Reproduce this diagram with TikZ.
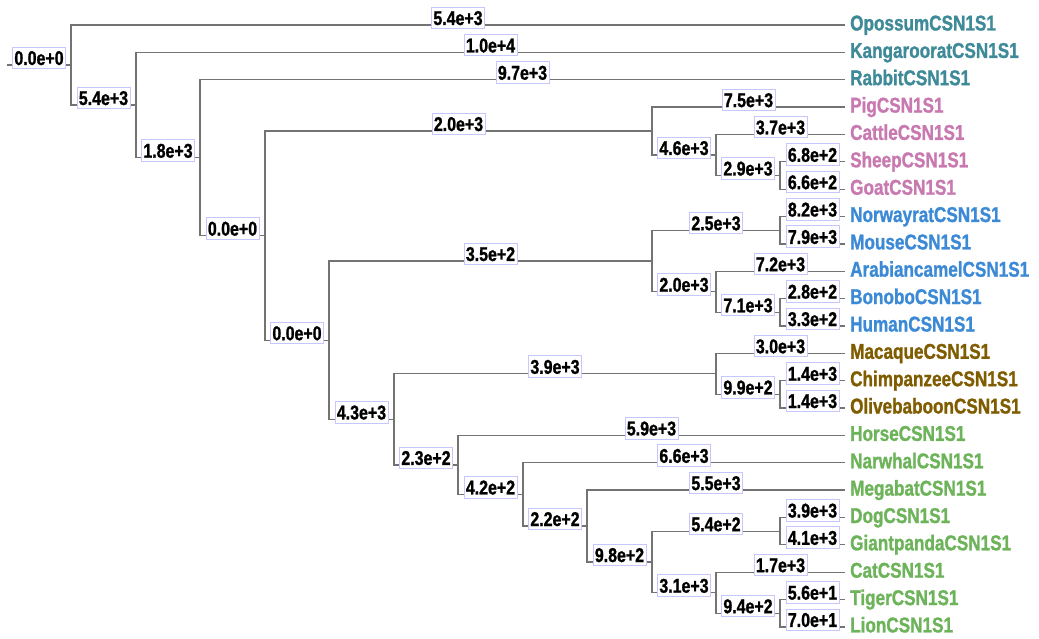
\documentclass[tikz,border=0pt]{standalone}
\usepackage{fontspec}
\setmainfont[FakeStretch=0.8, BoldFeatures={FakeBold=1.2}]{Liberation Sans}

\definecolor{tealgroup}{RGB}{63,138,152}
\definecolor{pinkgroup}{RGB}{200,121,176}
\definecolor{bluegroup}{RGB}{60,138,214}
\definecolor{browngroup}{RGB}{127,92,0}
\definecolor{greengroup}{RGB}{108,179,90}

\begin{document}
\begin{tikzpicture}[x=1bp, y=-1bp,
  edge/.style={draw=black!55, line width=1.3bp},
  lennode/.style={fill=white, draw=blue!22, line width=0.8bp, anchor=base, inner xsep=2bp, inner ysep=3.5bp, text height=14.5bp, text depth=0bp, font=\bfseries\fontsize{20}{20}\selectfont },
  leafnode/.style={anchor=west, inner xsep=5bp, inner ysep=0bp, text height=15bp, text depth=4bp, font=\bfseries\fontsize{21.5}{21.5}\selectfont },
  tealleaf/.style={leafnode, text=tealgroup },
  pinkleaf/.style={leafnode, text=pinkgroup },
  blueleaf/.style={leafnode, text=bluegroup },
  brownleaf/.style={leafnode, text=browngroup },
  greenleaf/.style={leafnode, text=greengroup },
]
\useasboundingbox (0,0) rectangle (1039,639);

%LEAVES
\node[tealleaf] (opossum) at (845,25) {OpossumCSN1S1};
\node[tealleaf] (kangaroorat) at (845,52.4) {KangarooratCSN1S1};
\node[tealleaf] (rabbit) at (845,79.7) {RabbitCSN1S1};
\node[pinkleaf] (pig) at (845,107.1) {PigCSN1S1};
\node[pinkleaf] (cattle) at (845,134.4) {CattleCSN1S1};
\node[pinkleaf] (sheep) at (845,161.8) {SheepCSN1S1};
\node[pinkleaf] (goat) at (845,189.2) {GoatCSN1S1};
\node[blueleaf] (norwayrat) at (845,216.5) {NorwayratCSN1S1};
\node[blueleaf] (mouse) at (845,243.9) {MouseCSN1S1};
\node[blueleaf] (camel) at (845,271.2) {ArabiancamelCSN1S1};
\node[blueleaf] (bonobo) at (845,298.6) {BonoboCSN1S1};
\node[blueleaf] (human) at (845,326) {HumanCSN1S1};
\node[brownleaf] (macaque) at (845,353.3) {MacaqueCSN1S1};
\node[brownleaf] (chimp) at (845,380.7) {ChimpanzeeCSN1S1};
\node[brownleaf] (baboon) at (845,408) {OlivebaboonCSN1S1};
\node[greenleaf] (horse) at (845,435.4) {HorseCSN1S1};
\node[greenleaf] (narwhal) at (845,462.8) {NarwhalCSN1S1};
\node[greenleaf] (megabat) at (845,490.1) {MegabatCSN1S1};
\node[greenleaf] (dog) at (845,517.5) {DogCSN1S1};
\node[greenleaf] (panda) at (845,544.8) {GiantpandaCSN1S1};
\node[greenleaf] (cat) at (845,572.2) {CatCSN1S1};
\node[greenleaf] (tiger) at (845,599.6) {TigerCSN1S1};
\node[greenleaf] (lion) at (845,626.9) {LionCSN1S1};

%INNER NODES
\coordinate (stub) at (7,65);
\coordinate (n0) at (71,65);
\coordinate (n1) at (136,105);
\coordinate (n2) at (200,157.7);
\coordinate (n3) at (265,235.6);
\coordinate (n4) at (652,131);
\coordinate (n5) at (329,340.2);
\coordinate (n6) at (716,155);
\coordinate (n7) at (780,175.5);
\coordinate (n8) at (652,261);
\coordinate (n9) at (394,419.4);
\coordinate (n10) at (780,230.2);
\coordinate (n11) at (716,291.7);
\coordinate (n12) at (780,312.3);
\coordinate (n13) at (716,373.8);
\coordinate (n14) at (458,464.9);
\coordinate (n15) at (780,394.4);
\coordinate (n16) at (523,494.4);
\coordinate (n17) at (587,526);
\coordinate (n18) at (652,562);
\coordinate (n19) at (780,531.2);
\coordinate (n20) at (716,592.7);
\coordinate (n21) at (780,613.2);

%BRANCHES
\draw[edge] (stub) -- node[lennode, pos=0.5] {0.0e+0} (n0);
\draw[edge] (n0) |- node[lennode, pos=0.75] {5.4e+3} (opossum.west);
\draw[edge] (n0) |- node[lennode, pos=0.75] {5.4e+3} (n1);
\draw[edge] (n1) |- node[lennode, pos=0.75] {1.0e+4} (kangaroorat.west);
\draw[edge] (n1) |- node[lennode, pos=0.75] {1.8e+3} (n2);
\draw[edge] (n2) |- node[lennode, pos=0.75] {9.7e+3} (rabbit.west);
\draw[edge] (n2) |- node[lennode, pos=0.75] {0.0e+0} (n3);

\draw[edge] (n3) |- node[lennode, pos=0.75] {2.0e+3} (n4);
\draw[edge] (n4) |- node[lennode, pos=0.75] {7.5e+3} (pig.west);
\draw[edge] (n4) |- node[lennode, pos=0.75] {4.6e+3} (n6);
\draw[edge] (n6) |- node[lennode, pos=0.75] {3.7e+3} (cattle.west);
\draw[edge] (n6) |- node[lennode, pos=0.75] {2.9e+3} (n7);
\draw[edge] (n7) |- node[lennode, pos=0.75] {6.8e+2} (sheep.west);
\draw[edge] (n7) |- node[lennode, pos=0.75] {6.6e+2} (goat.west);

\draw[edge] (n3) |- node[lennode, pos=0.75] {0.0e+0} (n5);
\draw[edge] (n5) |- node[lennode, pos=0.75] {3.5e+2} (n8);
\draw[edge] (n8) |- node[lennode, pos=0.75] {2.5e+3} (n10);
\draw[edge] (n10) |- node[lennode, pos=0.75] {8.2e+3} (norwayrat.west);
\draw[edge] (n10) |- node[lennode, pos=0.75] {7.9e+3} (mouse.west);
\draw[edge] (n8) |- node[lennode, pos=0.75] {2.0e+3} (n11);
\draw[edge] (n11) |- node[lennode, pos=0.75] {7.2e+3} (camel.west);
\draw[edge] (n11) |- node[lennode, pos=0.75] {7.1e+3} (n12);
\draw[edge] (n12) |- node[lennode, pos=0.75] {2.8e+2} (bonobo.west);
\draw[edge] (n12) |- node[lennode, pos=0.75] {3.3e+2} (human.west);

\draw[edge] (n5) |- node[lennode, pos=0.75] {4.3e+3} (n9);
\draw[edge] (n9) |- node[lennode, pos=0.75] {3.9e+3} (n13);
\draw[edge] (n13) |- node[lennode, pos=0.75] {3.0e+3} (macaque.west);
\draw[edge] (n13) |- node[lennode, pos=0.75] {9.9e+2} (n15);
\draw[edge] (n15) |- node[lennode, pos=0.75] {1.4e+3} (chimp.west);
\draw[edge] (n15) |- node[lennode, pos=0.75] {1.4e+3} (baboon.west);

\draw[edge] (n9) |- node[lennode, pos=0.75] {2.3e+2} (n14);
\draw[edge] (n14) |- node[lennode, pos=0.75] {5.9e+3} (horse.west);
\draw[edge] (n14) |- node[lennode, pos=0.75] {4.2e+2} (n16);
\draw[edge] (n16) |- node[lennode, pos=0.75] {6.6e+3} (narwhal.west);
\draw[edge] (n16) |- node[lennode, pos=0.75] {2.2e+2} (n17);
\draw[edge] (n17) |- node[lennode, pos=0.75] {5.5e+3} (megabat.west);
\draw[edge] (n17) |- node[lennode, pos=0.75] {9.8e+2} (n18);
\draw[edge] (n18) |- node[lennode, pos=0.75] {5.4e+2} (n19);
\draw[edge] (n19) |- node[lennode, pos=0.75] {3.9e+3} (dog.west);
\draw[edge] (n19) |- node[lennode, pos=0.75] {4.1e+3} (panda.west);
\draw[edge] (n18) |- node[lennode, pos=0.75] {3.1e+3} (n20);
\draw[edge] (n20) |- node[lennode, pos=0.75] {1.7e+3} (cat.west);
\draw[edge] (n20) |- node[lennode, pos=0.75] {9.4e+2} (n21);
\draw[edge] (n21) |- node[lennode, pos=0.75] {5.6e+1} (tiger.west);
\draw[edge] (n21) |- node[lennode, pos=0.75] {7.0e+1} (lion.west);

\end{tikzpicture}
\end{document}
